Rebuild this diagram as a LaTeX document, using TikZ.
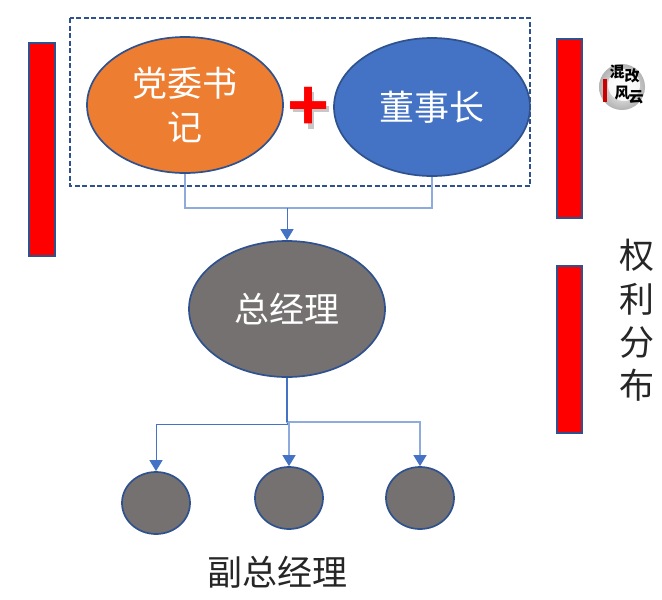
\documentclass[tikz,border=0pt]{standalone}
\usepackage{fontspec}
\setmainfont{Noto Sans CJK SC}
\newfontfamily\plusfont{Liberation Sans}
\usetikzlibrary{shapes.geometric,arrows.meta,shadows,calc}
\definecolor{edgeblue}{HTML}{2F528F}
\definecolor{linkblue}{HTML}{4472C4}
\definecolor{lightlink}{HTML}{8FAADC}
\definecolor{bossorange}{HTML}{ED7D31}
\definecolor{bossblue}{HTML}{4472C4}
\definecolor{bossgrey}{HTML}{767171}
\tikzset{
  blob/.style={ellipse,draw=edgeblue,line width=1.7pt,inner sep=0pt,text=white,align=center,font=\fontsize{35}{44}\selectfont},
  bigblob/.style={blob,minimum width=196pt,minimum height=136pt},
  smallblob/.style={blob,fill=bossgrey,minimum width=68pt,minimum height=62pt},
  redbar/.style={draw=edgeblue,line width=1.3pt,fill=red},
  conn/.style={draw=lightlink,line width=1.1pt},
  connarrow/.style={draw=linkblue,line width=1pt,-{Triangle[length=11pt,width=13pt,color=linkblue]}},
  lightarrow/.style={connarrow,draw=lightlink,line width=1.1pt},
  caption/.style={font=\fontsize{35}{35}\selectfont,text=black!85,inner sep=0pt},
  logochar/.style={font=\bfseries\fontsize{15}{15}\selectfont,inner sep=0pt,text=black}
}
\begin{document}
\begin{tikzpicture}[x=1pt,y=-1pt]
\useasboundingbox (0,0) rectangle (662,600);
\fill[white] (0,0) rectangle (662,600);
% red bars
\path[redbar] (29,43) rectangle (55,256);
\path[redbar] (557,39) rectangle (582,218);
\path[redbar] (557,266) rectangle (582,433);
% dashed frame
\draw[edgeblue,line width=1.4pt,dash pattern=on 5pt off 2.5pt] (70,18) rectangle (530,186);
% nodes
\node[bigblob,fill=bossorange] (party) at (185,105) {党委书\\记};
\node[bigblob,fill=bossblue,minimum height=138pt] (chair) at (432,107) {董事长};
\node[bigblob,fill=bossgrey] (gm) at (287,309) {总经理};
\node[smallblob] (vp1) at (156,503) {};
\node[smallblob] (vp2) at (289,498) {};
\node[smallblob] (vp3) at (420,498) {};
% plus
\fill[black!22] (293,106) rectangle (329,112);
\fill[black!22] (308,92) rectangle (314,129);
\node[text=red,inner sep=0pt,font=\plusfont\bfseries\fontsize{72}{72}\selectfont] (plus) at (309,108) {+};
% connectors
\coordinate (merge) at (287,208);
\draw[conn] (party.south) |- (merge);
\draw[conn] (chair.south) |- (merge);
\draw[connarrow] (merge) -- (gm.north);
\coordinate (split1) at (287,424);
\coordinate (split2) at (287,422);
\draw[connarrow] (gm.south) -- (split1) -| (vp1.north);
\draw[lightarrow] (gm.south) -- (split2) -| (vp2.north);
\draw[lightarrow] (gm.south) -- (split2) -| (vp3.north);
\draw[linkblue,line width=1.6pt] (gm.south) -- (split2);
% captions
\node[caption,anchor=center] (c1) at (637,255) {权};
\node[caption,anchor=center] (c2) at (637,299) {利};
\node[caption,anchor=center] (c3) at (637,343) {分};
\node[caption,anchor=center] (c4) at (637,385) {布};
\node[caption] (vpcap) at (277,572) {副总经理};
% logo
\shade[inner color=white,outer color=black!30] (622,87) circle (23);
\fill[white,opacity=.85] (624,85) circle (16);
\fill[red!80!black] (603,79) rectangle (607,102);
\node[logochar] (l1) at (617,72) {混};
\node[logochar] (l2) at (632,76) {改};
\node[logochar] (l3) at (622,93) {风};
\node[logochar] (l4) at (636,97) {云};
\end{tikzpicture}
\end{document}
